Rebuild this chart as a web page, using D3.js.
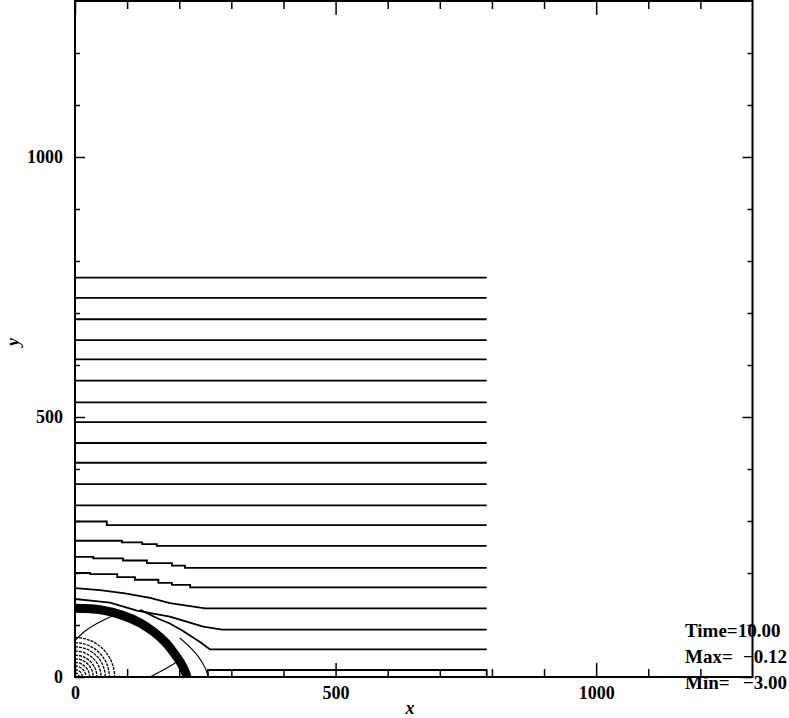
<!DOCTYPE html>
<html>
<head>
<meta charset="utf-8">
<script src="https://cdn.jsdelivr.net/npm/d3@7"></script>
<style>
  html, body { margin: 0; padding: 0; background: #fff; }
  svg { display: block; }
  .tick text { font-family: "Liberation Serif", "Times New Roman", serif; font-weight: bold; font-size: 18px; fill: #000; }
</style>
</head>
<body>
<svg id="chart" width="789" height="718"></svg>
<script>
// ---- data (in simulation units) ----
const xDomain = [0, 1300];
const yDomain = [0, 1300];
const majorTicks = [0, 500, 1000];
const minorTicks = [100, 200, 300, 400, 600, 700, 800, 900, 1100, 1200];
const xEnd = 790;            // right edge of computed region
// flat height of each contour far from the origin
const levels = [13.5, 53, 91, 132, 172.5, 210, 252, 292, 330, 371, 412, 450, 490, 528, 570, 611, 648, 688, 729, 768];
// left-hand bent parts of the lower contours
const bend0 = [[255, 0], [255, 13.5]];
const bend1 = [[125, 129], [160, 112], [182, 103], [205, 90], [225, 77], [242, 66], [259, 53]];
const bend2 = [[0, 150], [40, 146], [67, 143], [119, 127.5], [182, 116], [246, 97], [282, 91]];
const bend3 = [[0, 171], [48, 167], [96, 161], [144, 152], [182, 142], [221, 136.5], [250, 132]];
const bend4 = [[0, 200], [29, 198], [81, 192], [115, 187], [160, 181], [186, 177], [221, 172.5]];
const bend5 = [[0, 231], [35, 228], [92, 224], [138, 219], [186, 214], [211, 210]];
const bend6 = [[0, 262], [90, 259], [129, 255.6], [157, 252]];
const bend7 = [[0, 299], [61, 292]];
// blast shell (centre line) and thin contours around it
const shell = [[0, 132], [50, 129], [90, 119], [125, 104], [152, 86], [174, 66], [190, 46], [203, 27], [211, 11], [215, 0]];
const innerUpper = [[0, 70], [19, 88], [54, 109], [80, 120]];
const innerLower = [[144, 0], [163, 10], [186, 23], [205, 37]];
const outerArc = [[201, 75], [222, 56], [236, 40], [250, 17], [256, 0]];
const ringRadii = [76, 66, 58, 50, 42, 35, 28, 21, 14, 8];
const infoLabels = ["Time=", "Max=", "Min="];
const infoValues = ["10.00", "\u22120.12", "\u22123.00"];

// ---- drawing ----
const svg = d3.select("#chart");
const x = d3.scaleLinear().domain(xDomain).range([75, 752.5]);
const y = d3.scaleLinear().domain(yDomain).range([677, 1]);

const g = svg.append("g");

// contour lines
const bends = [bend0, bend1, bend2, bend3, bend4, bend5, bend6, bend7];
const stepSet = new Set([4, 5, 6, 7]);
levels.forEach((lv, k) => {
  let pts = bends[k] ? bends[k].slice() : [[0, lv]];
  pts.push([xEnd, lv]);
  if (k === 0) pts.push([xEnd, 0]);
  const line = d3.line().x(d => x(d[0])).y(d => y(d[1]))
    .curve(stepSet.has(k) ? d3.curveStepAfter : d3.curveLinear);
  g.append("path").attr("d", line(pts))
    .attr("fill", "none").attr("stroke", "#000").attr("stroke-width", 1.8);
});

const smooth = d3.line().x(d => x(d[0])).y(d => y(d[1])).curve(d3.curveCatmullRom);
g.append("path").attr("d", smooth(shell))
  .attr("fill", "none").attr("stroke", "#000").attr("stroke-width", 9);
[innerUpper, innerLower, outerArc].forEach(a => {
  g.append("path").attr("d", smooth(a))
    .attr("fill", "none").attr("stroke", "#000").attr("stroke-width", 1.1);
});

// concentric rings around origin
ringRadii.forEach(r => {
  const rx = x(r) - x(0), ry = y(0) - y(r);
  g.append("path")
    .attr("d", `M${x(0)},${y(r)} A${rx},${ry} 0 0 1 ${x(r)},${y(0)}`)
    .attr("fill", "none").attr("stroke", "#000").attr("stroke-width", 1.3)
    .attr("stroke-dasharray", "3,1");
});

// axes
function styleAxis(sel) {
  sel.select(".domain").remove();
  sel.selectAll(".tick line").attr("stroke", "#000").attr("stroke-width", 1.5);
}
svg.append("g").attr("transform", "translate(0,677)")
  .call(d3.axisBottom(x).tickValues(majorTicks).tickSize(-14).tickPadding(9).tickFormat(d3.format("d"))).call(styleAxis);
svg.append("g").attr("transform", "translate(0,677)")
  .call(d3.axisBottom(x).tickValues(minorTicks).tickSize(-8).tickFormat("")).call(styleAxis);
svg.append("g").attr("transform", "translate(0,1)")
  .call(d3.axisTop(x).tickValues(majorTicks).tickSize(-14).tickFormat("")).call(styleAxis);
svg.append("g").attr("transform", "translate(0,1)")
  .call(d3.axisTop(x).tickValues(minorTicks).tickSize(-8).tickFormat("")).call(styleAxis);
svg.append("g").attr("transform", "translate(75,0)")
  .call(d3.axisLeft(y).tickValues(majorTicks).tickSize(-10).tickPadding(12).tickFormat(d3.format("d"))).call(styleAxis);
svg.append("g").attr("transform", "translate(75,0)")
  .call(d3.axisLeft(y).tickValues(minorTicks).tickSize(-5).tickFormat("")).call(styleAxis);
svg.append("g").attr("transform", "translate(752.5,0)")
  .call(d3.axisRight(y).tickValues(majorTicks).tickSize(-10).tickFormat("")).call(styleAxis);
svg.append("g").attr("transform", "translate(752.5,0)")
  .call(d3.axisRight(y).tickValues(minorTicks).tickSize(-5).tickFormat("")).call(styleAxis);

// frame
svg.append("rect").attr("x", x(0)).attr("y", y(1300))
  .attr("width", x(1300) - x(0)).attr("height", y(0) - y(1300))
  .attr("fill", "none").attr("stroke", "#000").attr("stroke-width", 2);

// axis titles
svg.append("text").attr("x", 410).attr("y", 714).attr("text-anchor", "middle")
  .attr("font-family", "Liberation Serif, serif").attr("font-style", "italic").attr("font-weight", "bold")
  .attr("font-size", 18).text("x");
svg.append("text").attr("transform", "translate(19,342) rotate(-90)").attr("text-anchor", "middle")
  .attr("font-family", "Liberation Serif, serif").attr("font-style", "italic").attr("font-weight", "bold")
  .attr("font-size", 18).text("y");

// info block
const baselines = [637, 663, 689];
infoLabels.forEach((t, i) => {
  if (i === 0) {
    svg.append("text").attr("x", 685).attr("y", baselines[i])
      .attr("font-family", "Liberation Serif, serif").attr("font-weight", "bold").attr("font-size", 19)
      .text(t + infoValues[i]);
  } else {
    svg.append("text").attr("x", 685).attr("y", baselines[i])
      .attr("font-family", "Liberation Serif, serif").attr("font-weight", "bold").attr("font-size", 19).text(t);
    svg.append("text").attr("x", 787).attr("y", baselines[i]).attr("text-anchor", "end")
      .attr("font-family", "Liberation Serif, serif").attr("font-weight", "bold").attr("font-size", 19).text(infoValues[i]);
  }
});
</script>
</body>
</html>
